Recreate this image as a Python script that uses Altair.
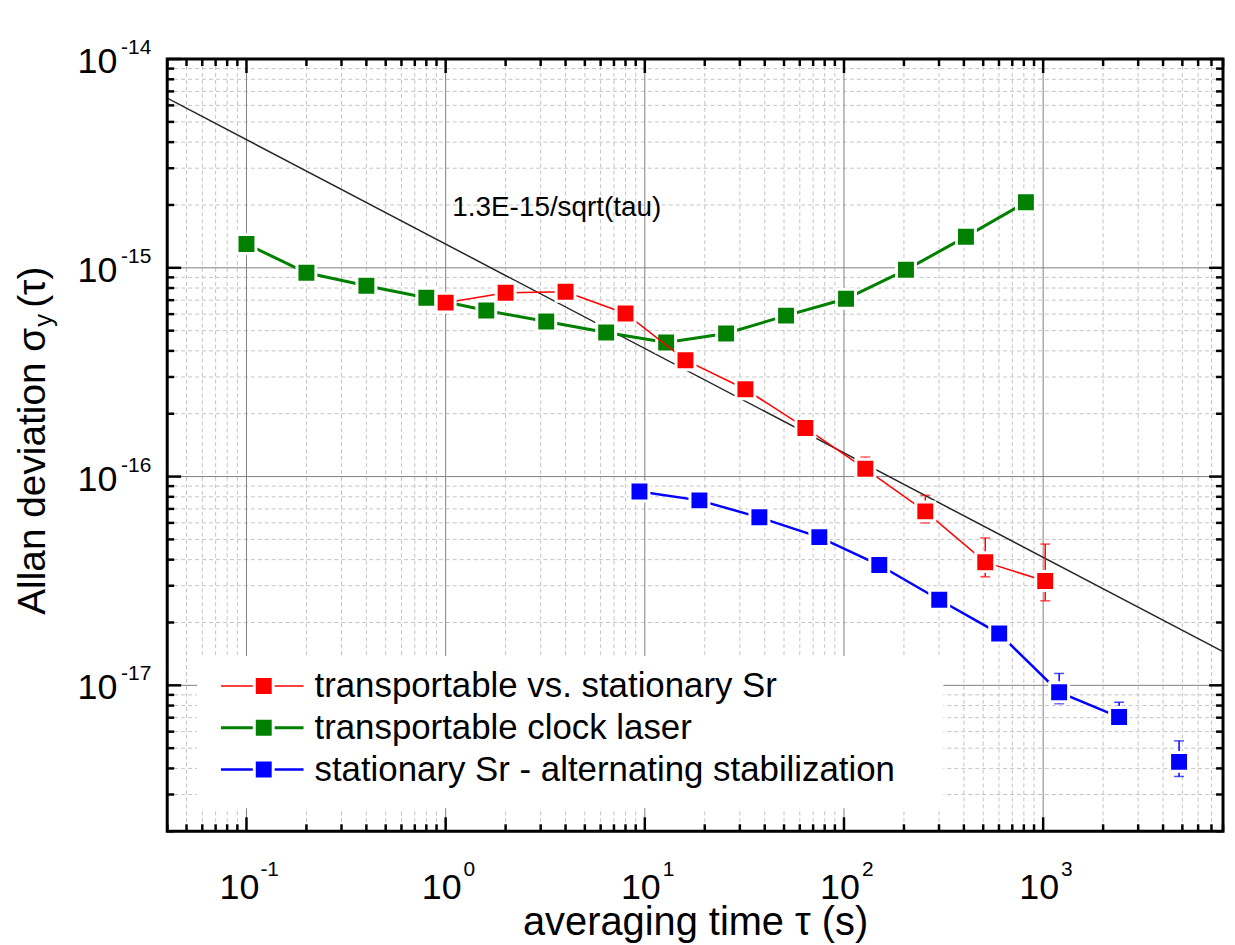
import altair as alt
import pandas as pd

# ---------------- data ----------------
green_tau = [0.1, 0.2, 0.4, 0.8, 1.6, 3.2, 6.4, 12.8, 25.6, 51.2, 102.4, 204.8, 409.6, 819.2]
green_adev = [1.30e-15, 9.47e-16, 8.21e-16, 7.19e-16, 6.24e-16, 5.53e-16, 4.90e-16,
              4.39e-16, 4.85e-16, 5.90e-16, 7.11e-16, 9.78e-16, 1.41e-15, 2.06e-15]

red_tau = [1, 2, 4, 8, 16, 32, 64, 128, 256, 512, 1024]
red_adev = [6.81e-16, 7.60e-16, 7.68e-16, 6.04e-16, 3.61e-16, 2.62e-16, 1.71e-16,
            1.09e-16, 6.81e-17, 3.89e-17, 3.16e-17]
red_err_tau = [128, 256, 512, 1024]
red_err_lo = [1.00e-16, 6.00e-17, 3.31e-17, 2.54e-17]
red_err_hi = [1.24e-16, 8.13e-17, 5.08e-17, 4.75e-17]

blue_tau = [9.4, 18.8, 37.6, 75.2, 150.4, 300.8, 601.6, 1203, 2406, 4813]
blue_adev = [8.48e-17, 7.69e-17, 6.38e-17, 5.13e-17, 3.77e-17, 2.57e-17, 1.77e-17,
             9.27e-18, 7.05e-18, 4.30e-18]
blue_connected = [True, True, True, True, True, True, True, True, True, False]
blue_err_tau = [300.8, 1203, 2406, 4813]
blue_err_lo = [2.45e-17, 8.17e-18, 6.74e-18, 3.66e-18]
blue_err_hi = [2.72e-17, 1.14e-17, 8.30e-18, 5.42e-18]

fit_tau = [0.04, 8000]
fit_adev = [6.5e-15, 1.45e-17]
fit_label = "1.3E-15/sqrt(tau)"
fit_label_pos = [1.08, 1.77e-15]

x_major = [0.1, 1, 10, 100, 1000]
x_major_exp = ["-1", "0", "1", "2", "3"]
y_major = [1e-14, 1e-15, 1e-16, 1e-17]
y_major_exp = ["-14", "-15", "-16", "-17"]
x_minor = [m * 10.0 ** k for k in range(-2, 4) for m in range(2, 10)
           if 0.04 <= m * 10.0 ** k <= 8000]
y_minor = [m * 10.0 ** k for k in range(-18, -14) for m in range(2, 10)
           if 2e-18 <= m * 10.0 ** k <= 1e-14]

leg_labels = ["transportable vs. stationary Sr", "transportable clock laser",
              "stationary Sr - alternating stabilization"]

x_title = "averaging time τ (s)"

# ---------------- style ----------------
RED, GREEN, BLUE = "#ff0000", "#008000", "#0000ff"
FONT = "Liberation Sans"
W, H = 1061, 776

xs = alt.Scale(type="log", domain=[0.04, 8000])
ys = alt.Scale(type="log", domain=[2e-18, 1e-14])


def X(f):
    return alt.X(f, type="quantitative", scale=xs, axis=None)


def Y(f):
    return alt.Y(f, type="quantitative", scale=ys, axis=None)


one = pd.DataFrame({"a": [0]})
layers = []

# grid
xmin_df = pd.DataFrame({"v": x_minor})
ymin_df = pd.DataFrame({"v": y_minor})
xmaj_df = pd.DataFrame({"v": x_major, "e": x_major_exp})
ymaj_df = pd.DataFrame({"v": y_major, "e": y_major_exp})

layers.append(alt.Chart(xmin_df).mark_rule(color="#c4c4c4", strokeWidth=1, strokeDash=[4, 3])
              .encode(x=X("v"), y=alt.value(0), y2=alt.value(H)))
layers.append(alt.Chart(ymin_df).mark_rule(color="#c4c4c4", strokeWidth=1, strokeDash=[4, 3])
              .encode(y=Y("v"), x=alt.value(0), x2=alt.value(W)))
layers.append(alt.Chart(xmaj_df).mark_rule(color="#808080", strokeWidth=1)
              .encode(x=X("v"), y=alt.value(0), y2=alt.value(H)))
layers.append(alt.Chart(ymaj_df[ymaj_df.v < 1e-14]).mark_rule(color="#808080", strokeWidth=1)
              .encode(y=Y("v"), x=alt.value(0), x2=alt.value(W)))

# legend background
layers.append(alt.Chart(one).mark_rect(fill="white")
              .encode(x=alt.value(30), x2=alt.value(780), y=alt.value(600), y2=alt.value(753)))

# fit line
fit_df = pd.DataFrame({"tau": fit_tau, "adev": fit_adev})
layers.append(alt.Chart(fit_df).mark_line(color="#262626", strokeWidth=1.5, clip=True)
              .encode(x=X("tau"), y=Y("adev")))
layers.append(alt.Chart(pd.DataFrame({"tau": [fit_label_pos[0]], "adev": [fit_label_pos[1]]}))
              .mark_text(text=fit_label, font=FONT, fontSize=28, align="left", baseline="alphabetic",
                         color="black")
              .encode(x=X("tau"), y=Y("adev")))


def series(tau, adev, color, lw, etau=None, elo=None, ehi=None, connected=None):
    out = []
    df = pd.DataFrame({"tau": tau, "adev": adev})
    ldf = df if connected is None else df[pd.Series(connected)]
    out.append(alt.Chart(ldf).mark_line(color=color, strokeWidth=lw, clip=True)
               .encode(x=X("tau"), y=Y("adev")))
    if etau is not None:
        edf = pd.DataFrame({"tau": etau, "lo": elo, "hi": ehi})
        out.append(alt.Chart(edf).mark_rule(color=color, strokeWidth=1.5)
                   .encode(x=X("tau"), y=Y("lo"), y2="hi"))
        out.append(alt.Chart(edf).mark_tick(color=color, thickness=1.5, size=10, orient="horizontal")
                   .encode(x=X("tau"), y=Y("lo")))
        out.append(alt.Chart(edf).mark_tick(color=color, thickness=1.5, size=10, orient="horizontal")
                   .encode(x=X("tau"), y=Y("hi")))
    out.append(alt.Chart(df).mark_square(size=361, fill=color, stroke="white", strokeWidth=3,
                                         opacity=1, fillOpacity=1, strokeOpacity=1)
               .encode(x=X("tau"), y=Y("adev")))
    return out


layers += series(green_tau, green_adev, GREEN, 3)
layers += series(red_tau, red_adev, RED, 1.5, red_err_tau, red_err_lo, red_err_hi)
layers += series(blue_tau, blue_adev, BLUE, 2.5, blue_err_tau, blue_err_lo, blue_err_hi,
                 connected=blue_connected)

# legend entries
leg_colors = [RED, GREEN, BLUE]
leg_lw = [1.5, 3, 2.5]
leg_rows = [630, 672, 714]
for lab, col, lw, ry in zip(leg_labels, leg_colors, leg_lw, leg_rows):
    layers.append(alt.Chart(one).mark_rule(color=col, strokeWidth=lw)
                  .encode(x=alt.value(54), x2=alt.value(137), y=alt.value(ry)))
    layers.append(alt.Chart(one).mark_square(size=361, fill=col, stroke="white", strokeWidth=3,
                                             opacity=1, fillOpacity=1, strokeOpacity=1)
                  .encode(x=alt.value(97), y=alt.value(ry)))
    layers.append(alt.Chart(one).mark_text(text=lab, font=FONT, fontSize=35, align="left",
                                           baseline="alphabetic", color="black")
                  .encode(x=alt.value(148), y=alt.value(ry + 11)))

# ticks (inward, all four sides)
for df, ln in ((xmin_df, 7), (xmaj_df, 14)):
    layers.append(alt.Chart(df).mark_rule(color="black", strokeWidth=2.5)
                  .encode(x=X("v"), y=alt.value(H), y2=alt.value(H - ln)))
    layers.append(alt.Chart(df).mark_rule(color="black", strokeWidth=2.5)
                  .encode(x=X("v"), y=alt.value(0), y2=alt.value(ln)))
for df, ln in ((ymin_df, 7), (ymaj_df, 14)):
    layers.append(alt.Chart(df).mark_rule(color="black", strokeWidth=2.5)
                  .encode(y=Y("v"), x=alt.value(0), x2=alt.value(ln)))
    layers.append(alt.Chart(df).mark_rule(color="black", strokeWidth=2.5)
                  .encode(y=Y("v"), x=alt.value(W), x2=alt.value(W - ln)))

# frame
layers.append(alt.Chart(one).mark_rect(fill="white", fillOpacity=0, stroke="black", strokeWidth=3)
              .encode(x=alt.value(0), x2=alt.value(W), y=alt.value(0), y2=alt.value(H)))

# tick labels: "10" + superscript exponent
neg = xmaj_df[xmaj_df.e.str.startswith("-")]
pos = xmaj_df[~xmaj_df.e.str.startswith("-")]
for df, dx_base, dx_exp in ((neg, 13, 14), (pos, 16, 18)):
    layers.append(alt.Chart(df).mark_text(text="10", font=FONT, fontSize=36, align="right",
                                          baseline="alphabetic", dx=dx_base, color="black")
                  .encode(x=X("v"), y=alt.value(844)))
    layers.append(alt.Chart(df).mark_text(font=FONT, fontSize=21, align="left",
                                          baseline="alphabetic", dx=dx_exp, color="black")
                  .encode(x=X("v"), y=alt.value(821), text="e:N"))
layers.append(alt.Chart(ymaj_df).mark_text(text="10", font=FONT, fontSize=36, align="right",
                                           baseline="alphabetic", dy=14, color="black")
              .encode(y=Y("v"), x=alt.value(-50)))
layers.append(alt.Chart(ymaj_df).mark_text(font=FONT, fontSize=21, align="right",
                                           baseline="alphabetic", dy=-5, color="black")
              .encode(y=Y("v"), x=alt.value(-16), text="e:N"))

# axis titles
layers.append(alt.Chart(one).mark_text(text=x_title, font=FONT, fontSize=40, align="center",
                                       baseline="alphabetic", color="black")
              .encode(x=alt.value(531), y=alt.value(880)))
layers.append(alt.Chart(one).mark_text(text="Allan deviation σ", font=FONT, fontSize=39, angle=270,
                                       align="right", baseline="alphabetic", color="black")
              .encode(x=alt.value(-123), y=alt.value(270)))
layers.append(alt.Chart(one).mark_text(text="y", font=FONT, fontSize=26, angle=270,
                                       align="left", baseline="alphabetic", color="black")
              .encode(x=alt.value(-116), y=alt.value(269)))
layers.append(alt.Chart(one).mark_text(text="(τ)", font=FONT, fontSize=39, angle=270,
                                       align="left", baseline="alphabetic", color="black")
              .encode(x=alt.value(-123), y=alt.value(250)))

chart = (alt.layer(*layers)
         .properties(width=W, height=H,
                     autosize=alt.AutoSizeParams(type="none"),
                     padding={"left": 160, "top": 49, "right": 4, "bottom": 112})
         .configure_view(stroke=None)
         .configure(background="white"))

chart.save("out.html", embed_options={"renderer": "svg", "actions": False})
